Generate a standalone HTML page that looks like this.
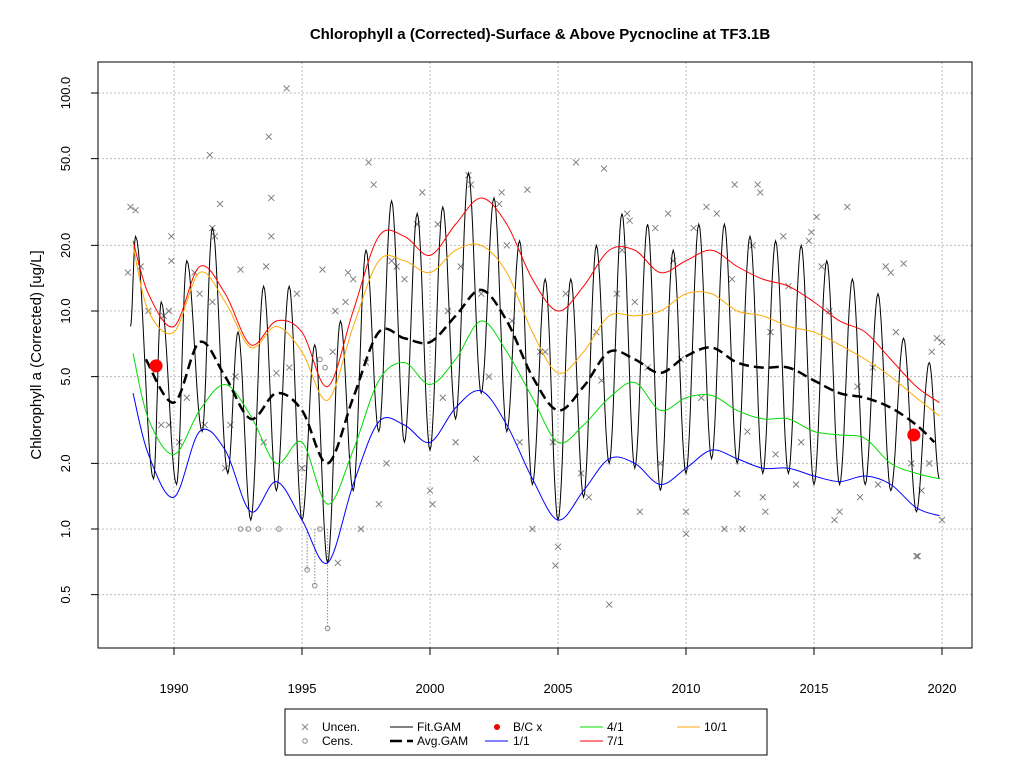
<!DOCTYPE html>
<html><head><meta charset="utf-8"><style>
body{margin:0;background:#fff}
svg{display:block;font-family:"Liberation Sans",Arial,sans-serif}
</style></head><body>
<svg id="c" width="1024" height="768" viewBox="0 0 1024 768">
<rect width="1024" height="768" fill="#fff"/>
<text x="540" y="39" text-anchor="middle" font-size="15" font-weight="bold">Chlorophyll a (Corrected)-Surface &amp; Above Pycnocline at TF3.1B</text>
<text transform="translate(41,355) rotate(-90)" text-anchor="middle" font-size="15">Chlorophyll a (Corrected) [ug/L]</text>
<g id="grid"></g>
<g id="series"></g>
<rect x="98" y="62" width="874" height="586" fill="none" stroke="#000"/>
<g id="axes"></g>
<g>
<rect x="285" y="709" width="482" height="46" fill="#fff" stroke="#000"/>
<g><path d="M302,724l6,6M308,724l-6,6" stroke="#888"/><text x="322" y="731" font-size="12">Uncen.</text></g>
<g><circle cx="305" cy="741" r="2.3" fill="none" stroke="#888"/><text x="322" y="745" font-size="12">Cens.</text></g>
<g><line x1="390" y1="727" x2="413" y2="727" stroke="#000"/><text x="417" y="731" font-size="12">Fit.GAM</text></g>
<g><line x1="390" y1="741" x2="413" y2="741" stroke="#000" stroke-width="2.5" stroke-dasharray="12,5"/><text x="417" y="745" font-size="12">Avg.GAM</text></g>
<g><circle cx="497" cy="727" r="3" fill="#e00"/><text x="513" y="731" font-size="12">B/C x</text></g>
<g><line x1="485" y1="741" x2="508" y2="741" stroke="#00f"/><text x="513" y="745" font-size="12">1/1</text></g>
<g><line x1="580" y1="727" x2="603" y2="727" stroke="#0d0"/><text x="607" y="731" font-size="12">4/1</text></g>
<g><line x1="580" y1="741" x2="603" y2="741" stroke="#f00"/><text x="607" y="745" font-size="12">7/1</text></g>
<g><line x1="677" y1="727" x2="700" y2="727" stroke="#fa0"/><text x="704" y="731" font-size="12">10/1</text></g>
</g>
</svg>
<script>
const xTicks=[1990,1995,2000,2005,2010,2015,2020];
const yTicks=[0.5,1,2,5,10,20,50,100];
const yTickLabels=["0.5","1.0","2.0","5.0","10.0","20.0","50.0","100.0"];
const curveYears=[1988.4,1989,1990,1991,1992,1993,1994,1995,1996,1997,1998,1999,2000,2001,2002,2003,2004,2005,2006,2007,2008,2009,2010,2011,2012,2013,2014,2015,2016,2017,2018,2019,2019.9];
const q1=[4.2,2.2,1.4,2.8,2.3,1.2,1.65,1.1,0.7,1.6,3.1,3.0,2.5,3.6,4.3,3.0,1.7,1.1,1.5,2.1,2.0,1.6,1.9,2.3,2.1,1.9,1.9,1.75,1.65,1.75,1.6,1.25,1.15];
const q4=[6.4,3.2,2.2,3.5,4.6,3.3,2.0,2.5,1.3,2.3,4.8,5.8,4.6,6.0,9.0,6.5,4.0,2.5,3.0,4.0,4.7,3.5,4.0,4.1,3.5,3.2,3.2,2.8,2.7,2.6,2.0,1.8,1.7];
const q7=[21,12,8.5,16,12,7,9,8,4.5,10,22,22,18,25,33,25,14,10,13,19,19,15,17,19,16,14,13,11,9,8,6,4.5,3.8];
const q10=[20,10,8,15,11,6.8,8.5,6.5,3.9,8.5,17,17,15,19,20,15,8,5.2,6.5,9.5,9.5,10,12,12,10,9.5,8.5,8,7,6,5,4,3.3];
const avgYears=[1988.9,1990,1991,1992,1993,1994,1995,1996,1997,1998,1999,2000,2001,2002,2003,2004,2005,2006,2007,2008,2009,2010,2011,2012,2013,2014,2015,2016,2017,2018,2019,2019.7];
const avgVals=[6.0,3.8,7.2,5.0,3.2,4.2,3.5,2.0,4.0,8.0,7.5,7.2,9.5,12.5,9,5,3.5,4.5,6.5,6.0,5.2,6.2,6.8,5.8,5.5,5.5,4.8,4.2,4.0,3.6,3.0,2.5];
const fitYears=[1988.3,1988.5,1989.2,1989.5,1990.1,1990.5,1991.1,1991.5,1992.1,1992.5,1993.0,1993.5,1994.0,1994.5,1995.0,1995.5,1996.0,1996.5,1997.0,1997.5,1998.0,1998.5,1999.0,1999.5,2000.0,2000.5,2001.0,2001.5,2002.0,2002.5,2003.0,2003.5,2004.0,2004.5,2005.0,2005.5,2006.0,2006.5,2007.0,2007.5,2008.0,2008.5,2009.0,2009.5,2010.0,2010.5,2011.0,2011.5,2012.0,2012.5,2013.0,2013.5,2014.0,2014.5,2015.0,2015.5,2016.0,2016.5,2017.0,2017.5,2018.0,2018.5,2019.0,2019.5,2019.9];
const fitVals=[8.5,22,1.7,11,1.6,17,2.8,24,1.8,8,1.1,13,1.5,13,1.1,7,0.7,9,1.5,19,2.8,32,2.5,28,2.3,30,3.2,43,4.2,33,2.8,21,1.6,14,1.1,14,1.4,20,2.0,28,1.9,25,1.5,19,1.8,25,2.1,25,2.0,22,1.8,21,1.8,20,1.6,17,1.6,14,1.6,12,1.5,7.5,1.2,5.8,1.7];
const uncenYears=[1988.2,1988.3,1988.5,1988.7,1989.0,1989.5,1989.6,1989.8,1989.9,1989.9,1989.8,1990.2,1990.5,1990.8,1991,1991.2,1991.4,1991.5,1991.6,1991.5,1991.8,1992.0,1992.2,1992.4,1992.6,1993.5,1993.6,1993.7,1993.8,1993.8,1994,1994.5,1994.8,1994.4,1995,1995.8,1996.2,1996.3,1996.4,1996.7,1996.8,1997.0,1997.3,1997.5,1997.6,1997.8,1998.0,1998.3,1998.5,1998.7,1999,1999.5,1999.7,2000,2000.1,2000.3,2000.5,2000.7,2001,2001.2,2001.5,2001.6,2001.8,2002,2002.3,2002.7,2002.8,2003,2003.2,2003.5,2003.8,2004,2004.3,2004.5,2004.8,2004.9,2005.0,2005.3,2005.7,2005.9,2006.2,2006.5,2006.7,2006.8,2007,2007.3,2007.5,2007.7,2007.8,2008.0,2008.2,2008.5,2008.8,2009,2009.3,2009.5,2009.8,2010,2010,2010.3,2010.6,2010.8,2011.2,2011.5,2011.8,2011.9,2012,2012.2,2012.4,2012.6,2012.8,2012.9,2013,2013.1,2013.3,2013.5,2013.8,2014,2014.3,2014.5,2014.8,2014.9,2015.1,2015.3,2015.6,2015.8,2016,2016.3,2016.7,2016.8,2017.3,2017.5,2017.8,2018.0,2018.2,2018.5,2018.8,2019,2019.05,2019.2,2019.5,2019.6,2019.8,2020,2020];
const uncenVals=[15,30,29,16,10,3,9.5,10,17,22,3,2.5,4,15,12,3,52,24,22,11,31,1.9,3,5,15.5,2.5,16,63,33,22,5.2,5.5,12,105,1.9,15.5,6.5,10,0.7,11,15,14,1.0,5.8,48,38,1.3,2.0,17,16,14,25,35,1.5,1.3,25,4,10,2.5,16,42,38,2.1,12,5,31,35,20,9,2.5,36,1.0,6.5,6.5,2.5,0.68,0.83,12,48,1.8,1.4,8,4.8,45,0.45,12,19,28,26,11,1.2,5.5,24,2.0,28,17,6,0.95,1.2,24,4,30,28,1.0,14,38,1.45,1.0,2.8,20,38,35,1.4,1.2,8,2.2,22,13,1.6,2.5,21,23,27,16,10,1.1,1.2,30,4.5,1.4,5.5,1.6,16,15,8,16.5,2,0.75,0.75,1.5,2.0,6.5,7.5,7.2,1.1];
const cenYears=[1992.6,1992.9,1993.3,1994.1,1995.2,1995.5,1995.7,1996.0,1995.1,1995.7,1995.9];
const cenVals=[1.0,1.0,1.0,1.0,0.65,0.55,1.0,0.35,1.9,6,5.5];
const bcYears=[1989.3,2018.9];
const bcVals=[5.6,2.7];

const NS="http://www.w3.org/2000/svg";
const X=t=>174+(t-1990)*25.6;
const Y=v=>529-Math.log10(v)*218;
function mk(tag,attrs,parent){const e=document.createElementNS(NS,tag);for(const k in attrs)e.setAttribute(k,attrs[k]);parent.appendChild(e);return e;}
const grid=document.getElementById('grid'),axes=document.getElementById('axes'),ser=document.getElementById('series');
xTicks.forEach(t=>{
  const g=mk('line',{x1:X(t),x2:X(t),y1:62,y2:648,stroke:'#bbb','stroke-dasharray':'2,2'},grid);
  
  
  const tk=mk('line',{x1:X(t),x2:X(t),y1:648,y2:655,stroke:'#000'},axes);
  
  
  const tx=mk('text',{x:X(t),y:693,'text-anchor':'middle','font-size':13},axes);tx.textContent=t;
  
  
});
yTicks.forEach((v,i)=>{
  const g=mk('line',{x1:98,x2:972,y1:Y(v),y2:Y(v),stroke:'#bbb','stroke-dasharray':'2,2'},grid);
  
  
  const tk=mk('line',{x1:91,x2:98,y1:Y(v),y2:Y(v),stroke:'#000'},axes);
  
  
  const tx=mk('text',{transform:`translate(70,${Y(v)}) rotate(-90)`,'text-anchor':'middle','font-size':13},axes);tx.textContent=yTickLabels[i];
  
  
});
// censored dotted lines
cenYears.forEach((t,i)=>{if(cenVals[i]<0.9){const l=mk('line',{x1:X(t),x2:X(t),y1:Y(1.0),y2:Y(cenVals[i]),stroke:'#888','stroke-dasharray':'1.5,1.5'},ser);
  
  }});
uncenYears.forEach((t,i)=>{const x=X(t),y=Y(uncenVals[i]);
  const p=mk('path',{d:`M${x-3},${y-3}l6,6M${x+3},${y-3}l-6,6`,stroke:'#777','stroke-width':0.9},ser);
  
  });
cenYears.forEach((t,i)=>{const c=mk('circle',{cx:X(t),cy:Y(cenVals[i]),r:2.3,fill:'none',stroke:'#888'},ser);
  
  });
function smooth(xs,vs){const P=xs.map((t,i)=>[X(t),Y(vs[i])]);let d=`M${P[0][0]},${P[0][1]}`;
  for(let i=0;i<P.length-1;i++){const p0=P[i-1]||P[i],p1=P[i],p2=P[i+1],p3=P[i+2]||P[i+1];
    d+=`C${p1[0]+(p2[0]-p0[0])/6},${p1[1]+(p2[1]-p0[1])/6} ${p2[0]-(p3[0]-p1[0])/6},${p2[1]-(p3[1]-p1[1])/6} ${p2[0]},${p2[1]}`;}
  return d;}
// fit gam: cosine interpolation in log space between extrema
(function(){let d='';for(let i=0;i<fitYears.length-1;i++){const a=fitYears[i],b=fitYears[i+1],la=Math.log10(fitVals[i]),lb=Math.log10(fitVals[i+1]);
  for(let k=0;k<=12;k++){const f=k/12,w=(1-Math.cos(Math.PI*f))/2;const t=a+(b-a)*f,v=Math.pow(10,la+(lb-la)*w);
    d+=(d?'L':'M')+X(t).toFixed(1)+','+Y(v).toFixed(1);}}
  const p=mk('path',{d,fill:'none',stroke:'#000','stroke-width':1},ser);
  
  })();
[[q1,'#00f','line-1-1'],[q4,'#0d0','line-4-1'],[q10,'#fa0','line-10-1'],[q7,'#f00','line-7-1']].forEach(([vs,c,n])=>{
  const p=mk('path',{d:smooth(curveYears,vs),fill:'none',stroke:c,'stroke-width':1},ser);
  
  });
(function(){const p=mk('path',{d:smooth(avgYears,avgVals),fill:'none',stroke:'#000','stroke-width':2.5,'stroke-dasharray':'10,5'},ser);
  
  })();
bcYears.forEach((t,i)=>{const c=mk('circle',{cx:X(t),cy:Y(bcVals[i]),r:6.5,fill:'#f00'},ser);
  
  });
</script>
</body></html>
